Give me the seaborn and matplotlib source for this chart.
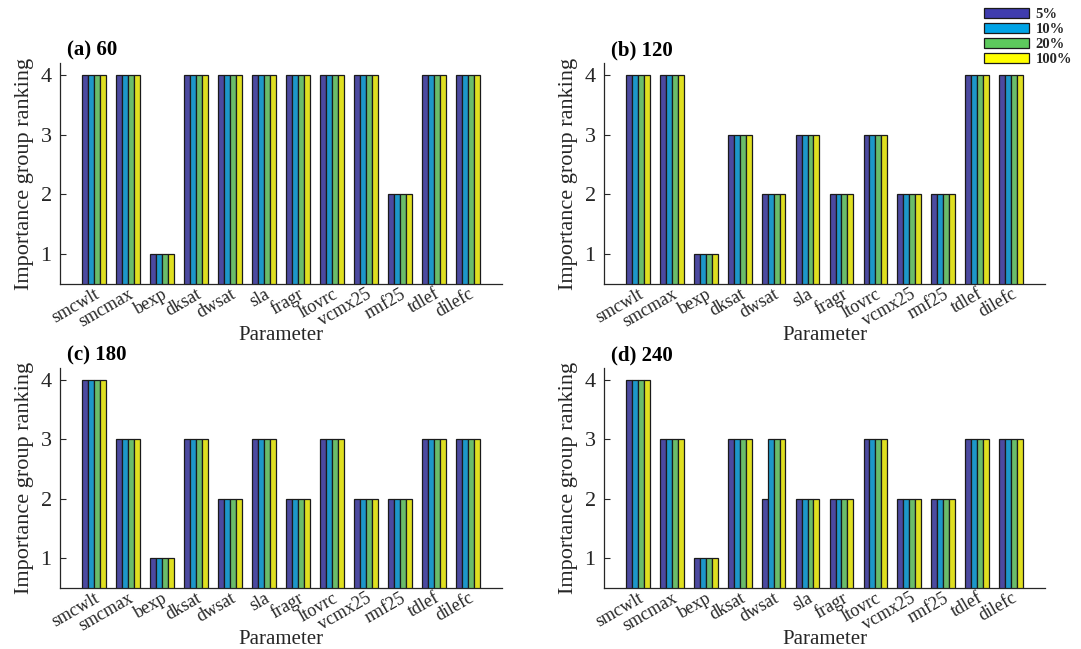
import matplotlib
matplotlib.use("Agg")
import matplotlib.pyplot as plt
import matplotlib.patches as mpatches
import seaborn as sns
import pandas as pd

# ---------------- data ----------------
parameters = ["smcwlt", "smcmax", "bexp", "dksat", "dwsat", "sla", "fragr",
              "ltovrc", "vcmx25", "rmf25", "tdlef", "dilefc"]
thresholds = ["5%", "10%", "20%", "100%"]
panel_titles = ["(a) 60", "(b) 120", "(c) 180", "(d) 240"]

rank_60_5 = [4, 4, 1, 4, 4, 4, 4, 4, 4, 2, 4, 4]
rank_60_10 = [4, 4, 1, 4, 4, 4, 4, 4, 4, 2, 4, 4]
rank_60_20 = [4, 4, 1, 4, 4, 4, 4, 4, 4, 2, 4, 4]
rank_60_100 = [4, 4, 1, 4, 4, 4, 4, 4, 4, 2, 4, 4]

rank_120_5 = [4, 4, 1, 3, 2, 3, 2, 3, 2, 2, 4, 4]
rank_120_10 = [4, 4, 1, 3, 2, 3, 2, 3, 2, 2, 4, 4]
rank_120_20 = [4, 4, 1, 3, 2, 3, 2, 3, 2, 2, 4, 4]
rank_120_100 = [4, 4, 1, 3, 2, 3, 2, 3, 2, 2, 4, 4]

rank_180_5 = [4, 3, 1, 3, 2, 3, 2, 3, 2, 2, 3, 3]
rank_180_10 = [4, 3, 1, 3, 2, 3, 2, 3, 2, 2, 3, 3]
rank_180_20 = [4, 3, 1, 3, 2, 3, 2, 3, 2, 2, 3, 3]
rank_180_100 = [4, 3, 1, 3, 2, 3, 2, 3, 2, 2, 3, 3]

rank_240_5 = [4, 3, 1, 3, 2, 2, 2, 3, 2, 2, 3, 3]
rank_240_10 = [4, 3, 1, 3, 3, 2, 2, 3, 2, 2, 3, 3]
rank_240_20 = [4, 3, 1, 3, 3, 2, 2, 3, 2, 2, 3, 3]
rank_240_100 = [4, 3, 1, 3, 3, 2, 2, 3, 2, 2, 3, 3]

panels = [
    [rank_60_5, rank_60_10, rank_60_20, rank_60_100],
    [rank_120_5, rank_120_10, rank_120_20, rank_120_100],
    [rank_180_5, rank_180_10, rank_180_20, rank_180_100],
    [rank_240_5, rank_240_10, rank_240_20, rank_240_100],
]

colors = ["#3F3CAE", "#00A3E6", "#5DC95D", "#FFFF00"]

# ---------------- style ----------------
sns.set_theme(style="white")
plt.rcParams["font.family"] = ["Liberation Serif", "DejaVu Serif"]
txt = "#262626"

fig = plt.figure(figsize=(10.81, 6.49), dpi=100)
W, H = 1081, 649
boxes = [(60, 63, 502, 284), (604, 63, 1045, 284),
         (60, 368, 502, 588), (604, 368, 1045, 588)]

for i, (vals, title) in enumerate(zip(panels, panel_titles)):
    l, t, r, b = boxes[i]
    ax = fig.add_axes([l / W, 1 - b / H, (r - l) / W, (b - t) / H])
    rows = []
    for th, v in zip(thresholds, vals):
        for p, val in zip(parameters, v):
            rows.append({"Parameter": p, "Threshold": th, "Rank": val})
    df = pd.DataFrame(rows)
    sns.barplot(data=df, x="Parameter", y="Rank", hue="Threshold",
                order=parameters, hue_order=thresholds, palette=colors,
                width=0.7, edgecolor="#1a1a1a", linewidth=0.9,
                ax=ax, legend=False)
    ax.set_xlim(-1, 12)
    ax.set_ylim(0.5, 4.2)
    ax.set_yticks([1, 2, 3, 4])
    for s in ["top", "right"]:
        ax.spines[s].set_visible(False)
    for s in ["left", "bottom"]:
        ax.spines[s].set_color(txt)
        ax.spines[s].set_linewidth(0.9)
    ax.tick_params(axis="y", direction="in", length=4, width=0.8,
                   colors=txt, labelsize=16, pad=6, left=True)
    ax.tick_params(axis="x", length=0, colors=txt, labelsize=13, pad=1)
    plt.setp(ax.get_xticklabels(), rotation=30, ha="right",
             rotation_mode="anchor")
    ax.set_xlabel("Parameter", fontsize=15, color=txt, labelpad=-3)
    ax.set_ylabel("Importance group ranking", fontsize=16, color=txt,
                  labelpad=5)
    ax.text(0.016, 1.012, title, transform=ax.transAxes, fontsize=15,
            fontweight="bold", color="black", ha="left", va="bottom")

handles = [mpatches.Patch(facecolor=c, edgecolor="#1a1a1a", linewidth=0.9,
                          label=th) for c, th in zip(colors, thresholds)]
fig.legend(handles=handles, loc="upper right",
           bbox_to_anchor=(1072 / W, 1 - 8 / H), frameon=False,
           prop={"family": "Liberation Serif", "weight": "bold", "size": 10.5},
           handlelength=3.1, handleheight=0.7, labelspacing=0.12,
           handletextpad=0.45, borderpad=0, borderaxespad=0)

fig.savefig("out.png", dpi=100)
